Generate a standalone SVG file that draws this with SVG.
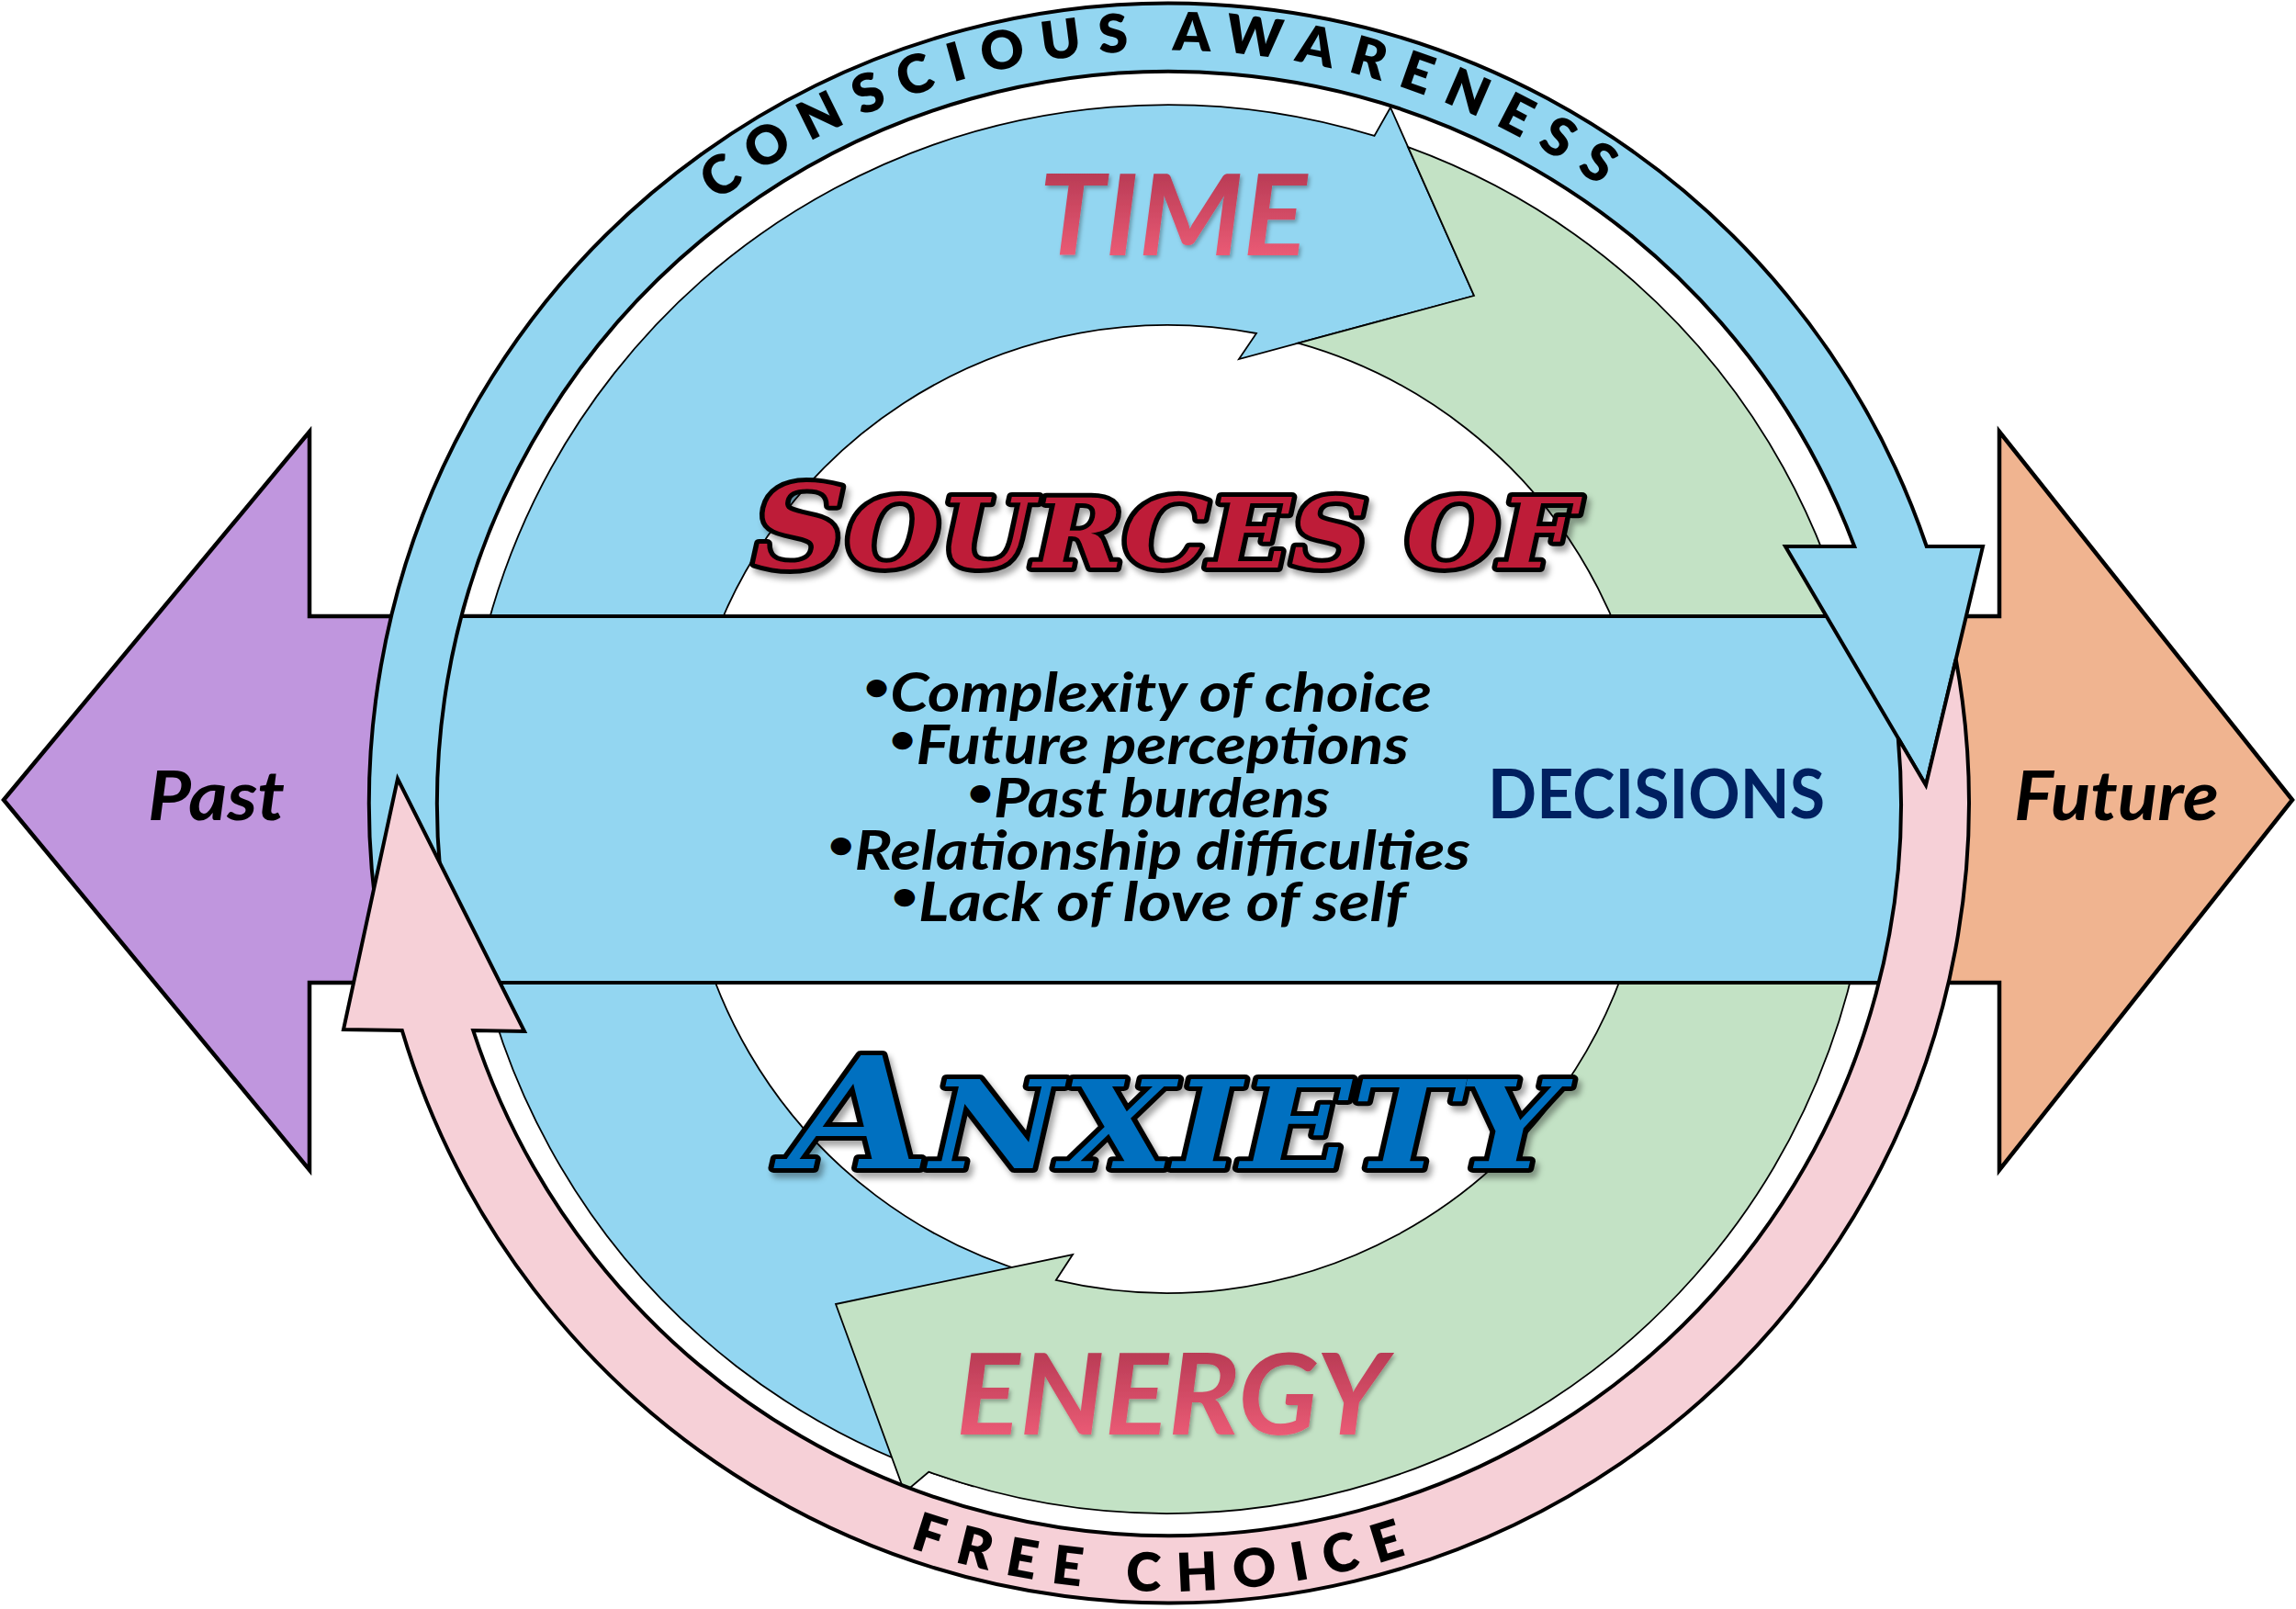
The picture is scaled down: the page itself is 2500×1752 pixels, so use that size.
<svg xmlns="http://www.w3.org/2000/svg" width="2500" height="1752" viewBox="0 0 2500 1752">
<defs>
<style>
.big{stroke:#000;stroke-width:4.5;stroke-linejoin:miter}
.ring{stroke:#000;stroke-width:4;stroke-linejoin:miter}
.inner{stroke:#000;stroke-width:1.8;stroke-linejoin:miter}
.cal{font-family:Lato,"Open Sans","Liberation Sans",sans-serif;font-weight:700}
.it{font-style:italic}
.ringtxt{font-family:Lato,"Open Sans","Liberation Sans",sans-serif;font-weight:800;font-size:58px;fill:#000;letter-spacing:18px}
.bul{font-size:59px;fill:#000}
.dot{font-size:44px}
.title{font-family:"DejaVu Serif","Liberation Serif",serif;font-weight:700;font-style:italic;stroke:#000;stroke-width:10;stroke-linejoin:round;paint-order:stroke}
.pinkword{font-size:123px;fill:url(#pg)}
</style>
<linearGradient id="pg" x1="0" y1="0" x2="0" y2="1">
<stop offset="0" stop-color="#a8304a"/>
<stop offset="1" stop-color="#f8647e"/>
</linearGradient>
<filter id="sh" x="-10%" y="-20%" width="120%" height="150%">
<feDropShadow dx="4" dy="6" stdDeviation="3" flood-color="#000" flood-opacity="0.35"/>
</filter>
<filter id="sh2" x="-10%" y="-20%" width="120%" height="150%">
<feDropShadow dx="2" dy="3" stdDeviation="2" flood-color="#000" flood-opacity="0.3"/>
</filter>
<clipPath id="bandclip"><circle cx="1273" cy="875" r="797"/></clipPath>
<path id="toparc" d="M 463.1 746.7 A 820 820 0 0 1 2077.9 718.5"/>
<path id="botarc" d="M 425.9 1011.4 A 858 858 0 0 0 2115.6 1036.5"/>
</defs>

<g id="past">
<polygon class="big" fill="#c096de" points="4,871 337,470 337,671 700,671 700,1070 337,1070 337,1274"/>
</g>
<g id="future">
<polygon class="big" fill="#f0b490" points="2496,871 2177,470 2177,671 1850,671 1850,1070 2177,1070 2177,1274"/>
</g>

<g id="connectors">
<g id="time-arrow">
<path class="inner" fill="#93d6f1" d="M 1059.6 1618.3 A 767 767 0 1 1 1496.5 147.9 L 1514 117 L 1605 322 L 1349 391 L 1368 363 A 527 527 0 0 0 1125.8 1387.6 Z"/>
</g>
<g id="energy-arrow">
<path class="inner" fill="#c3e2c5" d="M 1533.2 160.2 A 767 767 0 0 1 1991.7 1143.3 A 767 767 0 0 1 1011.2 1602.7 L 985 1625 L 910 1420 L 1168 1366 L 1149.8 1393.9 A 527 527 0 0 0 1766.2 1061.2 A 527 527 0 0 0 1413.5 373.6 L 1605 322 Z"/>
</g>
</g>

<g id="decisions-band">
<rect x="380" y="671" width="1790" height="399" fill="#93d6f1" stroke="#000" stroke-width="4" clip-path="url(#bandclip)"/>
</g>

<g id="connectors-ring">
<g id="conscious-awareness">
<path class="ring" fill="#93d6f1" d="M 417.4 1038.2 A 871 871 0 0 1 2097.8 595 L 2159 595 L 2097 855 L 1944 595 L 2019.2 595 A 797 797 0 0 0 490.1 1024.4 Z"/>
</g>
<g id="free-choice">
<path class="ring" fill="#f6d0d7" d="M 2129.7 717.9 A 871 871 0 0 1 437.8 1122 L 374 1121 L 433 848 L 571 1123 L 515.2 1122 A 797 797 0 0 0 2066.8 803.7 L 2097 855 Z"/>
</g>
</g>

<g id="ring-labels">
<text class="ringtxt" text-anchor="middle" dx="9"><textPath href="#toparc" startOffset="50%">CONSCIOUS AWARENESS</textPath></text>
<text class="ringtxt" text-anchor="middle" dx="9"><textPath href="#botarc" startOffset="50%">FREE CHOICE</textPath></text>
</g>

<g id="time-label">
<text class="cal it pinkword" x="1131" y="278" textLength="292" lengthAdjust="spacingAndGlyphs" filter="url(#sh2)">TIME</text>
</g>
<g id="energy-label">
<text class="cal it pinkword" x="1041" y="1562" textLength="470" lengthAdjust="spacingAndGlyphs" filter="url(#sh2)">ENERGY</text>
</g>

<g id="sources-title">
<text class="title" fill="#be1e37" x="820" y="618" textLength="896" lengthAdjust="spacingAndGlyphs" filter="url(#sh)"><tspan font-size="126">S</tspan><tspan font-size="105">OURCES OF</tspan></text>
</g>
<g id="anxiety-title">
<text class="title" fill="#0070c0" x="858" y="1272" textLength="842" lengthAdjust="spacingAndGlyphs" filter="url(#sh)"><tspan font-size="168">A</tspan><tspan font-size="132">NXIETY</tspan></text>
</g>

<g id="sources-list">
<text class="cal it bul" x="940" y="775" textLength="619" lengthAdjust="spacingAndGlyphs"><tspan class="dot" dy="-12">•</tspan><tspan dy="12">Complexity of choice</tspan></text>
<text class="cal it bul" x="968" y="832" textLength="566" lengthAdjust="spacingAndGlyphs"><tspan class="dot" dy="-12">•</tspan><tspan dy="12">Future perceptions</tspan></text>
<text class="cal it bul" x="1053" y="890" textLength="395" lengthAdjust="spacingAndGlyphs"><tspan class="dot" dy="-12">•</tspan><tspan dy="12">Past burdens</tspan></text>
<text class="cal it bul" x="901" y="947" textLength="700" lengthAdjust="spacingAndGlyphs"><tspan class="dot" dy="-12">•</tspan><tspan dy="12">Relationship difficulties</tspan></text>
<text class="cal it bul" x="970" y="1003" textLength="561" lengthAdjust="spacingAndGlyphs"><tspan class="dot" dy="-12">•</tspan><tspan dy="12">Lack of love of self</tspan></text>
</g>

<g id="decisions-label">
<text class="cal" x="1620" y="891" font-size="75" fill="#002060" textLength="367" lengthAdjust="spacingAndGlyphs">DECISIONS</text>
</g>
<g id="past-label">
<text class="cal it" x="161" y="893" font-size="74" fill="#000" textLength="149" lengthAdjust="spacingAndGlyphs">Past</text>
</g>
<g id="future-label">
<text class="cal it" x="2193" y="893" font-size="74" fill="#000" textLength="223" lengthAdjust="spacingAndGlyphs">Future</text>
</g>
</svg>
